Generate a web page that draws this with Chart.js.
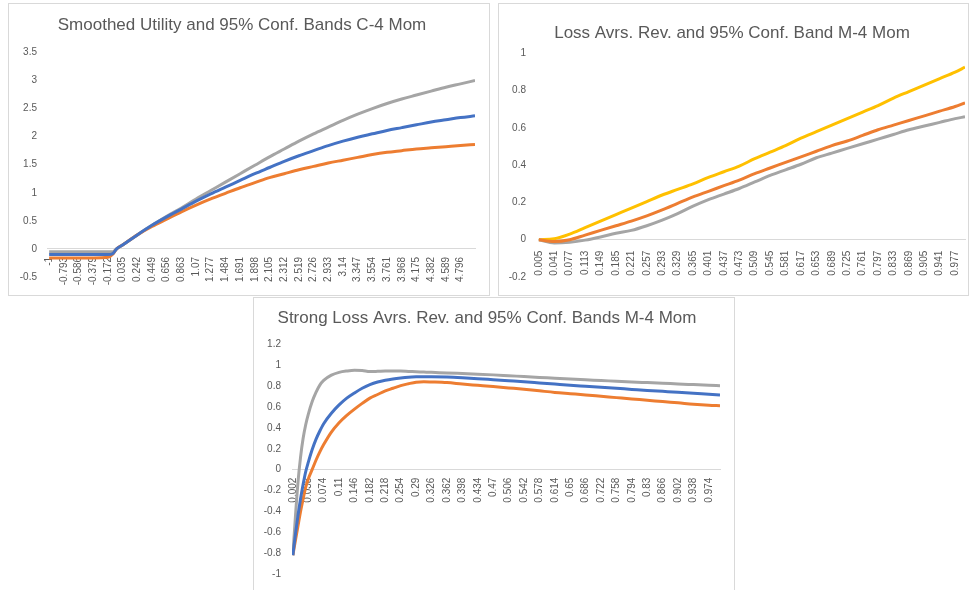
<!DOCTYPE html>
<html>
<head>
<meta charset="utf-8">
<script src="https://cdn.jsdelivr.net/npm/chart.js@4.4.1/dist/chart.umd.min.js"></script>
<style>
  body { margin: 0; background: #fff; width: 969px; height: 590px; overflow: hidden; position: relative; }
  .box { position: absolute; border: 1px solid #d9d9d9; background: #fff; }
  canvas { display: block; }
</style>
</head>
<body>
<div class="box" style="left:8px;top:3px;"><canvas id="c1" width="480" height="291"></canvas></div>
<div class="box" style="left:498px;top:3px;"><canvas id="c2" width="469" height="291"></canvas></div>
<div class="box" style="left:253px;top:297px;"><canvas id="c3" width="480" height="294"></canvas></div>
<script>
// chart 1: smoothed utility
const ticks1 = [-1, -0.793, -0.586, -0.379, -0.172, 0.035, 0.242, 0.449, 0.656, 0.863, 1.07, 1.277, 1.484, 1.691,
  1.898, 2.105, 2.312, 2.519, 2.726, 2.933, 3.14, 3.347, 3.554, 3.761, 3.968, 4.175, 4.382, 4.589, 4.796];
const xs1 = [-1, -0.793, -0.586, -0.379, -0.172, -0.1, -0.05, 0.035, 0.242, 0.449, 0.656, 0.863, 1.07, 1.277, 1.484,
  1.691, 1.898, 2.105, 2.312, 2.519, 2.726, 2.933, 3.14, 3.347, 3.554, 3.761, 3.968, 4.175, 4.382, 4.589, 4.796, 5.0];
const gray1 = [-0.05, -0.05, -0.05, -0.05, -0.05, -0.05, 0, 0.07, 0.25, 0.42, 0.58, 0.73, 0.89, 1.04, 1.19, 1.34,
  1.49, 1.64, 1.78, 1.92, 2.05, 2.17, 2.29, 2.40, 2.50, 2.59, 2.67, 2.74, 2.81, 2.88, 2.94, 3.0];
const blue1 = [-0.1, -0.1, -0.1, -0.1, -0.1, -0.08, 0, 0.07, 0.25, 0.42, 0.57, 0.71, 0.85, 0.98, 1.10, 1.22,
  1.34, 1.45, 1.56, 1.66, 1.75, 1.84, 1.92, 1.99, 2.05, 2.11, 2.16, 2.21, 2.26, 2.30, 2.34, 2.37];
const orange1 = [-0.16, -0.16, -0.16, -0.16, -0.15, -0.09, 0, 0.07, 0.25, 0.40, 0.53, 0.66, 0.78, 0.89, 0.99, 1.09,
  1.18, 1.27, 1.34, 1.41, 1.47, 1.53, 1.58, 1.63, 1.68, 1.72, 1.75, 1.78, 1.80, 1.82, 1.84, 1.86];

// chart 2: loss aversion
const ticks2 = [0.005, 0.041, 0.077, 0.113, 0.149, 0.185, 0.221, 0.257, 0.293, 0.329, 0.365, 0.401, 0.437, 0.473,
  0.509, 0.545, 0.581, 0.617, 0.653, 0.689, 0.725, 0.761, 0.797, 0.833, 0.869, 0.905, 0.941, 0.977];
const xs2 = [0.005, 0.041, 0.077, 0.113, 0.149, 0.185, 0.221, 0.257, 0.293, 0.329, 0.365, 0.401, 0.437, 0.473,
  0.509, 0.545, 0.581, 0.617, 0.653, 0.689, 0.725, 0.761, 0.797, 0.833, 0.869, 0.905, 0.941, 0.977, 1.0];
const yellow2 = [0, 0.005, 0.03, 0.065, 0.10, 0.135, 0.17, 0.205, 0.24, 0.27, 0.30, 0.335, 0.365, 0.395, 0.435,
  0.47, 0.505, 0.545, 0.58, 0.615, 0.65, 0.685, 0.72, 0.76, 0.795, 0.83, 0.865, 0.90, 0.926];
const orange2 = [0, -0.01, 0.0, 0.025, 0.05, 0.075, 0.10, 0.128, 0.16, 0.195, 0.23, 0.26, 0.29, 0.32, 0.355,
  0.385, 0.415, 0.445, 0.475, 0.505, 0.53, 0.56, 0.59, 0.615, 0.64, 0.665, 0.69, 0.715, 0.735];
const gray2 = [0, -0.017, -0.013, -0.002, 0.015, 0.035, 0.05, 0.075, 0.105, 0.14, 0.18, 0.215, 0.245, 0.275, 0.31,
  0.345, 0.375, 0.405, 0.44, 0.465, 0.49, 0.515, 0.54, 0.565, 0.59, 0.61, 0.63, 0.65, 0.66];

// chart 3: strong loss aversion
const ticks3 = [0.002, 0.038, 0.074, 0.11, 0.146, 0.182, 0.218, 0.254, 0.29, 0.326, 0.362, 0.398, 0.434, 0.47,
  0.506, 0.542, 0.578, 0.614, 0.65, 0.686, 0.722, 0.758, 0.794, 0.83, 0.866, 0.902, 0.938, 0.974];
const xs3 = [0.002, 0.008, 0.014, 0.02, 0.026, 0.032, 0.038, 0.047, 0.056, 0.065, 0.074, 0.092, 0.11, 0.128, 0.146,
  0.164, 0.182, 0.2, 0.218, 0.236, 0.254, 0.272, 0.29, 0.308, 0.326, 0.362, 0.398, 0.434, 0.47, 0.506, 0.542,
  0.578, 0.614, 0.65, 0.686, 0.722, 0.758, 0.794, 0.83, 0.866, 0.902, 0.938, 0.974, 1.0];
const gray3 = [-0.82, -0.45, -0.12, 0.12, 0.3, 0.43, 0.53, 0.65, 0.74, 0.81, 0.855, 0.905, 0.932, 0.945, 0.952,
  0.95, 0.94, 0.942, 0.945, 0.945, 0.944, 0.941, 0.938, 0.935, 0.932, 0.927, 0.921, 0.915, 0.908, 0.9, 0.892,
  0.884, 0.876, 0.868, 0.861, 0.854, 0.847, 0.84, 0.834, 0.828, 0.821, 0.815, 0.809, 0.804];
const blue3 = [-0.82, -0.62, -0.44, -0.28, -0.14, -0.02, 0.07, 0.19, 0.29, 0.37, 0.44, 0.54, 0.62, 0.685, 0.735,
  0.78, 0.815, 0.84, 0.857, 0.869, 0.878, 0.885, 0.889, 0.891, 0.891, 0.888, 0.881, 0.872, 0.862, 0.852, 0.842,
  0.831, 0.82, 0.809, 0.799, 0.789, 0.779, 0.769, 0.759, 0.75, 0.741, 0.731, 0.722, 0.715];
const orange3 = [-0.82, -0.68, -0.54, -0.4, -0.28, -0.17, -0.09, 0, 0.09, 0.17, 0.24, 0.36, 0.45, 0.52, 0.58,
  0.635, 0.685, 0.72, 0.755, 0.78, 0.805, 0.823, 0.838, 0.842, 0.84, 0.834, 0.82, 0.808, 0.796, 0.783, 0.77,
  0.755, 0.74, 0.728, 0.716, 0.703, 0.69, 0.677, 0.665, 0.652, 0.64, 0.627, 0.617, 0.612];

const BLUE = '#4472C4', ORANGE = '#ED7D31', GRAY = '#A5A5A5', YELLOW = '#FFC000';
const TEXT = '#595959';

Chart.defaults.font.family = '"Liberation Sans", Arial, sans-serif';
Chart.defaults.color = TEXT;

function drawChart(id, o) {
  const datasets = o.series.map(s => ({
    data: o.xs.map((x, i) => ({ x: x, y: s.values[i] })),
    borderColor: s.color,
    borderWidth: 3,
    pointRadius: 0,
    fill: false,
    cubicInterpolationMode: 'monotone'
  }));

  new Chart(document.getElementById(id), {
    type: 'line',
    data: { datasets: datasets },
    options: {
      responsive: false,
      animation: false,
      layout: { padding: o.padding },
      plugins: {
        legend: { display: false },
        tooltip: { enabled: false },
        title: {
          display: true,
          text: o.title,
          color: TEXT,
          font: { size: 17, weight: 'normal' },
          padding: o.titlePadding
        }
      },
      scales: {
        x: {
          type: 'linear',
          position: { y: 0 },
          min: o.xMin,
          max: o.xMax,
          grid: { display: false, drawTicks: false },
          border: { display: true, color: '#d9d9d9', width: 1 },
          afterBuildTicks: scale => { scale.ticks = o.ticks.map(v => ({ value: v })); },
          afterFit: scale => { scale.paddingLeft = 0; scale.paddingRight = 0; },
          ticks: {
            autoSkip: false,
            minRotation: 90,
            maxRotation: 90,
            padding: o.xPad,
            font: { size: 10 },
            callback: v => String(v)
          }
        },
        y: {
          min: o.yMin,
          max: o.yMax,
          grid: { display: false, drawTicks: false },
          border: { display: false },
          afterFit: scale => { scale.width = o.yWidth; },
          ticks: {
            stepSize: o.yStep,
            padding: o.yPad,
            font: { size: 10 },
            callback: v => String(+v.toFixed(2))
          }
        }
      }
    }
  });
}

drawChart('c1', {
  title: 'Smoothed Utility and 95% Conf. Bands C-4 Mom',
  xs: xs1, ticks: ticks1, xMin: -1.03, xMax: 5.0,
  yMin: -0.5, yMax: 3.5, yStep: 0.5,
  series: [
    { values: blue1, color: BLUE },
    { values: orange1, color: ORANGE },
    { values: gray1, color: GRAY }
  ],
  padding: { left: 0, right: 14, top: 0, bottom: 18 },
  titlePadding: { top: 11, bottom: 17 },
  yWidth: 38, yPad: 10, xPad: 8
});

drawChart('c2', {
  title: 'Loss Avrs. Rev. and 95% Conf. Band M-4 Mom',
  xs: xs2, ticks: ticks2, xMin: 0.003, xMax: 1.0,
  yMin: -0.2, yMax: 1, yStep: 0.2,
  series: [
    { values: orange2, color: ORANGE },
    { values: gray2, color: GRAY },
    { values: yellow2, color: YELLOW }
  ],
  padding: { left: 0, right: 3, top: 0, bottom: 15 },
  titlePadding: { top: 19, bottom: 10 },
  yWidth: 39, yPad: 12, xPad: 11
});

drawChart('c3', {
  title: 'Strong Loss Avrs. Rev. and 95% Conf. Bands M-4 Mom',
  xs: xs3, ticks: ticks3, xMin: 0.0, xMax: 1.0,
  yMin: -1, yMax: 1.2, yStep: 0.2,
  series: [
    { values: blue3, color: BLUE },
    { values: orange3, color: ORANGE },
    { values: gray3, color: GRAY }
  ],
  padding: { left: 0, right: 14, top: 0, bottom: 18 },
  titlePadding: { top: 10, bottom: 16 },
  yWidth: 38, yPad: 11, xPad: 8
});
</script>
</body>
</html>
